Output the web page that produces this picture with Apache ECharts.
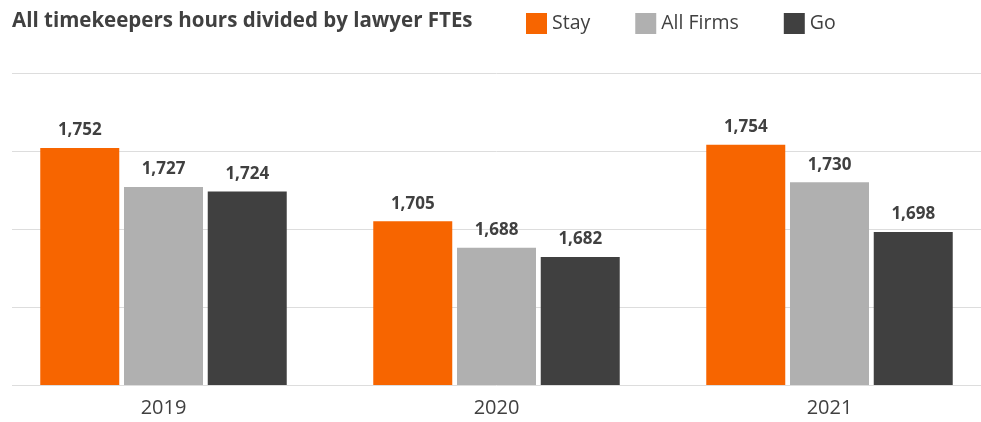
<!DOCTYPE html>
<html>
<head>
<meta charset="utf-8">
<script src="https://cdn.jsdelivr.net/npm/echarts@6/dist/echarts.min.js"></script>
<style>
  html, body { margin: 0; padding: 0; background: #fff; }
  #chart { width: 981px; height: 422px; }
</style>
</head>
<body>
<div id="chart"></div>
<script>
const years = ['2019', '2020', '2021']
const stay = [1752, 1705, 1754]
const allFirms = [1727, 1688, 1730]
const go = [1724, 1682, 1698]

const textColor = '#404040'
const fontFamily = '"Open Sans", "Noto Sans", sans-serif'

const chart = echarts.init(document.getElementById('chart'))

function barLabel() {
  return {
    show: true,
    position: 'top',
    distance: 9,
    color: textColor,
    fontSize: 17,
    fontWeight: 'bold',
    fontFamily: fontFamily,
    formatter: p => p.value.toLocaleString('en-US')
  }
}

chart.setOption({
  animation: false,
  title: {
    text: 'All timekeepers hours divided by lawyer FTEs',
    left: 7,
    top: 6,
    textStyle: { color: textColor, fontSize: 20.5, fontWeight: 'bold', fontFamily: fontFamily }
  },
  legend: {
    left: 521,
    top: 8,
    itemWidth: 21,
    itemHeight: 21,
    itemGap: 45,
    icon: 'rect',
    textStyle: { color: textColor, fontSize: 19.5, fontFamily: fontFamily },
    data: ['Stay', 'All Firms', 'Go']
  },
  // grid 0 only carries the horizontal gridlines, grid 1 holds the bars
  grid: [
    { left: 12, right: 0, top: 73, height: 312, outerBoundsMode: 'none' },
    { left: -3, width: 999, top: 73, height: 312, outerBoundsMode: 'none' }
  ],
  xAxis: [
    { type: 'category', gridIndex: 0, data: years, show: false },
    {
      type: 'category',
      gridIndex: 1,
      data: years,
      axisLine: { show: false },
      axisTick: { show: false },
      axisLabel: { color: textColor, fontSize: 20, fontFamily: fontFamily, margin: 13 }
    }
  ],
  yAxis: [
    {
      type: 'value',
      gridIndex: 0,
      min: 1600,
      max: 1800,
      interval: 50,
      axisLine: { show: false },
      axisTick: { show: false },
      axisLabel: { show: false },
      splitLine: { lineStyle: { color: '#dddddd', width: 1 } }
    },
    {
      type: 'value',
      gridIndex: 1,
      min: 1600,
      max: 1800,
      interval: 50,
      show: false,
      splitLine: { show: false }
    }
  ],
  series: [
    {
      name: 'Stay',
      type: 'bar',
      xAxisIndex: 1,
      yAxisIndex: 1,
      barWidth: 79,
      barGap: '6%',
      itemStyle: { color: '#F76500' },
      label: barLabel(),
      data: stay
    },
    {
      name: 'All Firms',
      type: 'bar',
      xAxisIndex: 1,
      yAxisIndex: 1,
      barWidth: 79,
      barGap: '6%',
      itemStyle: { color: '#B0B0B0' },
      label: barLabel(),
      data: allFirms
    },
    {
      name: 'Go',
      type: 'bar',
      xAxisIndex: 1,
      yAxisIndex: 1,
      barWidth: 79,
      barGap: '6%',
      itemStyle: { color: '#404040' },
      label: barLabel(),
      data: go
    }
  ]
})
</script>
</body>
</html>
